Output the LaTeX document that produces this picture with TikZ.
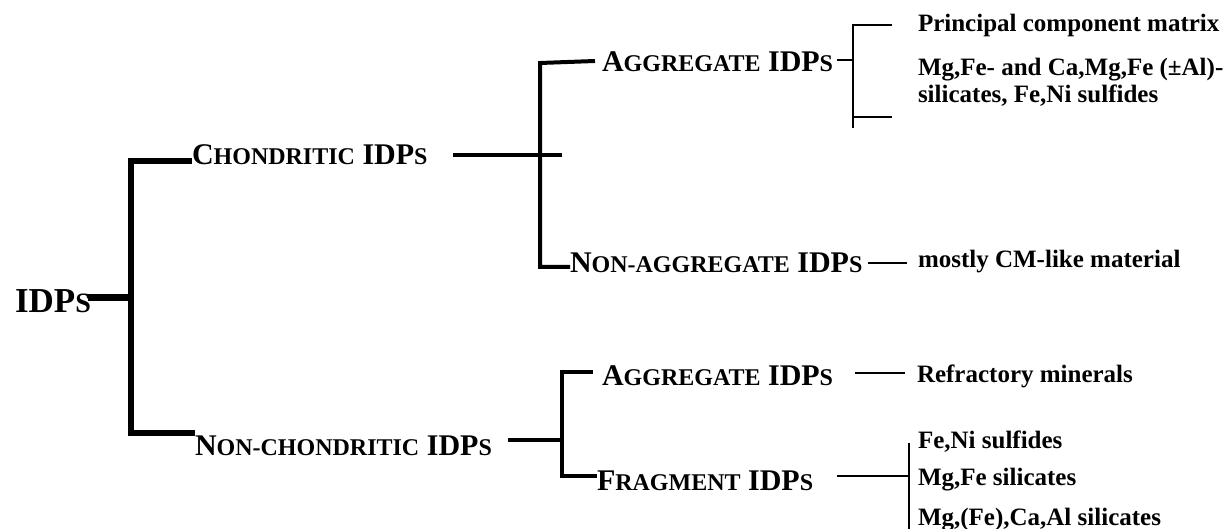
\documentclass[tikz,border=0pt]{standalone}
\usepackage{fontspec}
\setmainfont{Liberation Serif}
% fake small capitals: reduced upper-case letters
\newcommand\smc[1]{{\fontsize{24}{26}\selectfont #1}}
\newcommand\smcroot[1]{{\fontsize{28}{30}\selectfont #1}}
\begin{document}
\begin{tikzpicture}[x=1pt,y=-1pt,
  every node/.style={inner sep=0pt, outer sep=0pt, anchor=base west},
  heavy/.style={line width=6pt},
  mid/.style={line width=4pt},
  light/.style={line width=2.5pt},
  rootlab/.style={font=\bfseries\fontsize{35}{40}\selectfont},
  lvl/.style={font=\bfseries\fontsize{30}{32}\selectfont},
  leaf/.style={font=\bfseries\fontsize{25}{27}\selectfont, align=left}]
\useasboundingbox (0,0) rectangle (1229,529);

% ---- labels ----
\node[rootlab] (root) at (15,313) {IDP\smcroot{S}};
\node[lvl] (chon) at (192,165) {C\smc{HONDRITIC} IDP\smc{S}};
\node[lvl] (nonchon) at (195,455) {N\smc{ON-CHONDRITIC} IDP\smc{S}};
\node[lvl] (aggA) at (602,72) {A\smc{GGREGATE} IDP\smc{S}};
\node[lvl] (nonagg) at (570,273) {N\smc{ON-AGGREGATE} IDP\smc{S}};
\node[lvl] (aggB) at (602,385) {A\smc{GGREGATE} IDP\smc{S}};
\node[lvl] (frag) at (597,490) {F\smc{RAGMENT} IDP\smc{S}};

\node[leaf] (pcm) at (918,32) {Principal component matrix};
\node[leaf] (sil) at (918,103) {Mg,Fe- and Ca,Mg,Fe (±Al)-\\silicates, Fe,Ni sulfides};
\node[leaf] (cm) at (918,268) {mostly CM-like material};
\node[leaf] (refr) at (917,382) {Refractory minerals};
\node[leaf] (feni) at (918,448) {Fe,Ni sulfides};
\node[leaf] (mgfe) at (918,485) {Mg,Fe silicates};
\node[leaf] (mgca) at (918,525) {Mg,(Fe),Ca,Al silicates};

% ---- first level: IDPs -> chondritic / non-chondritic ----
\coordinate (rootR) at (88,298);
\coordinate (rootV) at (131,298);
\draw[line width=7pt] (rootR) -- (rootV);
\draw[heavy] (chon.west |- 0,161) -- (131,161) -- (131,433) -- (nonchon.west |- 0,433);

% ---- chondritic -> aggregate / non-aggregate ----
\coordinate (chonR) at (453,155);
\coordinate (chonX) at (562,155);
\draw[mid] (chonR) -- (chonX);
\draw[mid] (595,61) -- (540,63) -- (540,267) -- (nonagg.west |- 0,267);

% ---- aggregate (chondritic) -> matrix / silicates ----
\coordinate (aggAR) at (837,60);
\coordinate (aggAV) at (853,60);
\draw[light] (aggAR) -- (aggAV);
\draw[light] (892,25) -- (853,25) -- (853,128);
\draw[light] (853,117) -- (892,117);

% ---- non-aggregate -> CM-like material ----
\coordinate (nonaggR) at (868,263);
\coordinate (cmL) at (907,263);
\draw[light] (nonaggR) -- (cmL);

% ---- non-chondritic -> aggregate / fragment ----
\coordinate (nonchonR) at (508,440);
\coordinate (nonchonV) at (562,440);
\draw[mid] (nonchonR) -- (nonchonV);
\draw[mid] (593,372) -- (562,372) -- (562,476) -- (frag.west |- 0,476);

% ---- aggregate (non-chondritic) -> refractory minerals ----
\coordinate (aggBR) at (855,373);
\coordinate (refrL) at (905,373);
\draw[light] (aggBR) -- (refrL);

% ---- fragment -> three mineral groups ----
\coordinate (fragR) at (837,476);
\coordinate (fragV) at (909,476);
\draw[light] (fragR) -- (fragV);
\draw[light] (909,443) -- (909,529);
\end{tikzpicture}
\end{document}
